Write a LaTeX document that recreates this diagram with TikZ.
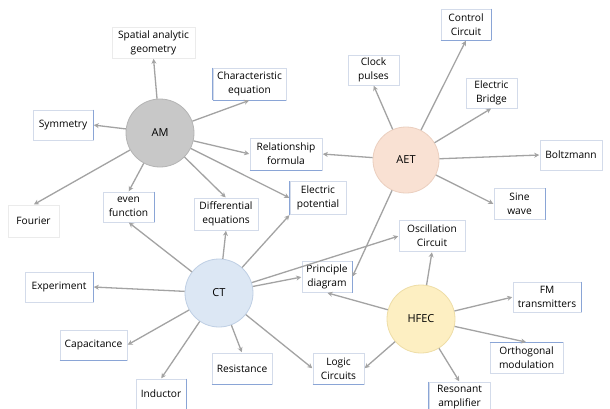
\documentclass[tikz,border=0pt]{standalone}
\usepackage{fontspec}
\setmainfont{Open Sans}
\usetikzlibrary{arrows.meta}
\definecolor{boxline}{HTML}{D3DBEA}
\definecolor{edgeblue}{HTML}{8AA5D6}
\definecolor{arrowgray}{HTML}{A3A3A3}
\definecolor{amfill}{HTML}{C8C8C8}
\definecolor{amline}{HTML}{B4B4B4}
\definecolor{aetfill}{HTML}{F9E1D3}
\definecolor{aetline}{HTML}{EBCFBF}
\definecolor{ctfill}{HTML}{DCE7F4}
\definecolor{ctline}{HTML}{BFCFE4}
\definecolor{hffill}{HTML}{FDEFC2}
\definecolor{hfline}{HTML}{EEDDA6}
\newcommand{\boxfont}{\fontsize{10.2}{14}\selectfont}
\tikzset{
  box/.style={rectangle, draw=boxline, line width=0.6pt, align=center, inner sep=0pt, font=\boxfont, text=black},
  hub/.style={circle, minimum size=68pt, inner sep=0pt, line width=0.8pt, font=\fontsize{11}{13}\selectfont, text=black},
  arr/.style={draw=arrowgray, line width=1.3pt, -{Stealth[length=5pt,width=5pt]}, shorten >=0.5pt},
  blueedge/.style={draw=edgeblue, line width=0.8pt}
}
\begin{document}
\begin{tikzpicture}[x=1pt,y=-1pt]
\useasboundingbox[fill=white] (0,0) rectangle (610,408);
% hubs
\node[hub, fill=amfill, draw=amline] (AM) at (160,133) {AM};
\node[hub, fill=aetfill, draw=aetline, minimum size=66pt] (AET) at (406,160) {AET};
\node[hub, fill=ctfill, draw=ctline] (CT) at (219,293) {CT};
\node[hub, fill=hffill, draw=hfline] (HF) at (421,319) {HFEC};
% boxes
\node[box, draw=black!8, minimum width=83pt, minimum height=31pt] (spat) at (153.5,42.5) {Spatial analytic\\geometry};
\node[box, minimum width=73pt, minimum height=32pt] (char) at (249.5,84) {Characteristic\\equation};
\node[box, minimum width=60pt, minimum height=30pt] (sym) at (63,125) {Symmetry};
\node[box, minimum width=72pt, minimum height=32pt] (rel) at (286,154) {Relationship\\formula};
\node[box, minimum width=56pt, minimum height=33pt] (ep) at (318,198) {Electric\\potential};
\node[box, draw=black!8, minimum width=51pt, minimum height=32pt] (four) at (33.5,221) {Fourier};
\node[box, minimum width=51pt, minimum height=30pt] (ef) at (128.5,207) {even\\function};
\node[box, minimum width=64pt, minimum height=32pt] (de) at (226,214) {Differential\\equations};
\node[box, minimum width=68pt, minimum height=30pt] (exp) at (59,287) {Experiment};
\node[box, minimum width=67pt, minimum height=30pt] (cap) at (93.5,345) {Capacitance};
\node[box, minimum width=50pt, minimum height=30pt] (ind) at (161,394) {Inductor};
\node[box, minimum width=60pt, minimum height=31pt] (res) at (242,368.5) {Resistance};
\node[box, minimum width=50pt, minimum height=31pt] (pd) at (327,277) {Principle\\diagram};
\node[box, minimum width=66pt, minimum height=31pt] (oc) at (432,236) {Oscillation\\Circuit};
\node[box, minimum width=51pt, minimum height=31pt] (logic) at (338.5,368.5) {Logic\\Circuits};
\node[box, minimum width=61pt, minimum height=30pt] (reson) at (459.5,397) {Resonant\\amplifier};
\node[box, minimum width=68pt, minimum height=30pt] (fm) at (547,297) {FM\\transmitters};
\node[box, minimum width=73pt, minimum height=31pt] (orth) at (526.5,358) {Orthogonal\\modulation};
\node[box, minimum width=50pt, minimum height=31pt] (ctrl) at (466,24.5) {Control\\Circuit};
\node[box, minimum width=51pt, minimum height=30pt] (clock) at (373.5,70) {Clock\\pulses};
\node[box, minimum width=51pt, minimum height=30pt] (brid) at (491.5,93) {Electric\\Bridge};
\node[box, minimum width=62pt, minimum height=30pt] (boltz) at (571,155) {Boltzmann};
\node[box, minimum width=51pt, minimum height=31pt] (sine) at (519.5,204) {Sine\\wave};
% stronger blue edges
\foreach \n in {sym,ef,exp,ind,pd,fm,sine,ctrl}
  \draw[blueedge] (\n.north east) -- (\n.south east);
\foreach \n in {char,ep,reson}
  \draw[blueedge] (\n.north west) -- (\n.south west);
\foreach \n in {char,rel,cap,res,logic,ctrl}
  \draw[blueedge] (\n.south west) -- (\n.south east);
\foreach \n in {orth}
  \draw[blueedge] (\n.north west) -- (\n.north east);
% AM connectors
\draw[arr] (AM) -- (spat.south);
\draw[arr] (AM) -- (char.south);
\draw[arr] (AM) -- (sym.east);
\draw[arr] (AM) -- (rel.west);
\draw[arr] (AM) -- (ep.west);
\draw[arr] (AM) -- (four.north);
\draw[arr] (AM) -- (ef.north);
\draw[arr] (AM) -- (de.north);
% AET connectors
\draw[arr] (AET) -- (clock.south);
\draw[arr] (AET) -- (ctrl.south);
\draw[arr] (AET) -- (brid.south);
\draw[arr] (AET) -- (boltz.west);
\draw[arr] (AET) -- (sine.west);
\draw[arr] (AET) -- (rel.east);
\draw[arr] (AET) -- (pd.east);
% CT connectors
\draw[arr] (CT) -- (ef.south);
\draw[arr] (CT) -- (de.south);
\draw[arr] (CT) -- (ep.south west);
\draw[arr] (CT) -- (oc.west);
\draw[arr] (CT) -- (pd.west);
\draw[arr] (CT) -- (exp.east);
\draw[arr] (CT) -- (cap.east);
\draw[arr] (CT) -- (ind.north);
\draw[arr] (CT) -- (res.north);
\draw[arr] (CT) -- (logic.west);
% HFEC connectors
\draw[arr] (HF) -- (oc.south);
\draw[arr] (HF) -- (pd.south);
\draw[arr] (HF) -- (fm.west);
\draw[arr] (HF) -- (orth.north);
\draw[arr] (HF) -- (reson.north);
\draw[arr] (HF) -- (logic.east);
\end{tikzpicture}
\end{document}
